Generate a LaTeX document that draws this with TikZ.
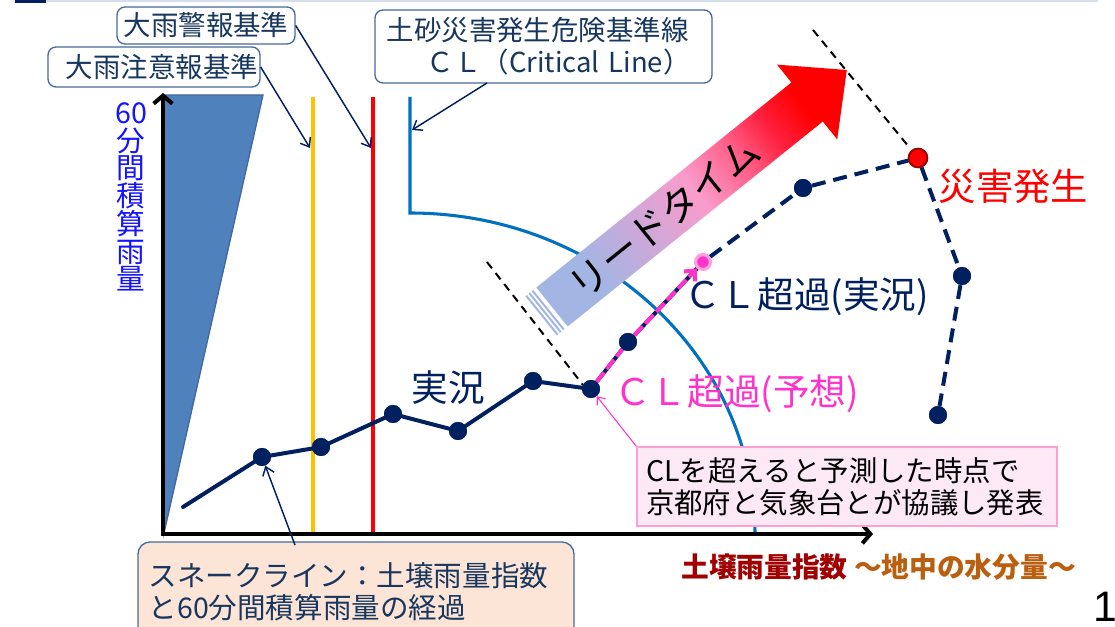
\documentclass[tikz,border=0pt]{standalone}
\usepackage{fontspec}
\setmainfont{Noto Sans CJK JP}
\newfontfamily\lsans{Liberation Sans}
\usetikzlibrary{arrows.meta}
\definecolor{navy}{RGB}{0,32,96}
\definecolor{calltext}{RGB}{23,55,94}
\definecolor{callborder}{RGB}{70,105,155}
\definecolor{axisblue}{RGB}{20,20,255}
\definecolor{wedge}{RGB}{79,129,189}
\definecolor{wedgeedge}{RGB}{65,105,160}
\definecolor{warnyellow}{RGB}{255,192,0}
\definecolor{clblue}{RGB}{0,112,192}
\definecolor{magentapink}{RGB}{255,51,204}
\definecolor{pinkring}{RGB}{255,160,220}
\definecolor{pinkfill}{RGB}{253,233,245}
\definecolor{pinkborder}{RGB}{255,160,210}
\definecolor{peach}{RGB}{252,229,214}
\definecolor{darkred}{RGB}{160,0,0}
\definecolor{brownish}{RGB}{185,95,15}
\definecolor{stripe}{RGB}{163,181,227}
\definecolor{topline}{RGB}{215,222,235}
\pgfdeclarehorizontalshading{leadtime}{100bp}{rgb(0bp)=(0.64,0.71,0.89); rgb(28bp)=(0.64,0.71,0.89); rgb(42bp)=(0.84,0.65,0.84); rgb(51bp)=(0.98,0.61,0.80); rgb(61bp)=(1,0.36,0.52); rgb(68bp)=(1,0.12,0.24); rgb(75bp)=(1,0,0); rgb(100bp)=(1,0,0)}
\begin{document}
\begin{tikzpicture}[x=0.75pt,y=-0.75pt,
  callout/.style={draw=callborder, line width=1pt, rounded corners=6pt, fill=white, text=calltext, inner sep=0pt, font=\fontsize{20.6}{24}\selectfont},
  navydot/.style={circle, fill=navy, inner sep=0pt, minimum size=13.5pt},
  ptr/.style={draw=navy, line width=1.1pt, -{Straight Barb[length=6pt,width=9pt]}},
  biglabel/.style={font=\fontsize{27.5}{27.5}\selectfont, inner sep=0pt},
  solidsnake/.style={navy, line width=3pt, line join=round, line cap=round},
  dashsnake/.style={navy, line width=3pt, dash pattern=on 10.5pt off 6pt},
  guide/.style={black, line width=1.5pt, dash pattern=on 6pt off 4.5pt}]
\useasboundingbox (0,0) rectangle (1115,627);
\clip (0,0) rectangle (1115,627);
\fill[white] (0,0) rectangle (1115,627);
% top decoration
\fill[navy] (15,0) rectangle (46,3);
\draw[topline, line width=1.5pt] (46,1.5) -- (1098,1.5);
% wedge
\filldraw[fill=wedge, draw=wedgeedge, line width=1pt] (164,533) -- (164,95) -- (263,95) -- cycle;
% threshold lines
\draw[warnyellow, line width=3pt] (313,97) -- (313,534);
\draw[red, line width=3pt] (373,97) -- (373,534);
\draw[clblue, line width=2.3pt] (410,97) -- (410,213) arc[start angle=90, end angle=0, x radius=258.75pt, y radius=240.75pt];
% axes
\draw[black, line width=3pt, {Straight Barb[length=6pt,width=14pt]}-{Straight Barb[length=6pt,width=14pt]}] (163,93) -- (163,534) -- (873,534);
% y axis label
\node[font=\fontsize{21.5}{20.8}\selectfont, text=axisblue, align=center, inner sep=0pt] (ylab) at (131,197) {60\\分\\間\\積\\算\\雨\\量};
% guide dashed lines
\coordinate (g1a) at (487,262);
\coordinate (g1b) at (583,385);
\coordinate (g2a) at (813,30);
\coordinate (g2b) at (909,147);
\draw[guide] (g1a) -- (g1b);
\draw[guide] (g2a) -- (g2b);
% lead time arrow
\coordinate (s1) at (536.3,287.5);
\coordinate (h1) at (791.4,82.5);
\coordinate (b1) at (777.0,64.6);
\coordinate (tip) at (846.8,70.0);
\coordinate (b2) at (837.2,139.4);
\coordinate (h2) at (822.8,121.5);
\coordinate (s2) at (567.7,326.5);
\shade[shading=leadtime, shading angle=38.8] (s1) -- (h1) -- (b1) -- (tip) -- (b2) -- (h2) -- (s2) -- cycle;
\draw[stripe, line width=1.5pt] (532.4,290.6) -- (563.8,329.6);
\draw[stripe, line width=1.5pt] (529.3,293.1) -- (560.7,332.1);
\draw[stripe, line width=1.5pt] (526.2,295.7) -- (557.6,334.7);
\node[font=\fontsize{29}{29}\selectfont, inner sep=0pt, rotate=38.8, text=black] (lead) at (664,217) {リードタイム};
% snake line
\coordinate (p0) at (183,507);
\node[navydot] (p1) at (262,457) {};
\node[navydot] (p2) at (321,447) {};
\node[navydot] (p3) at (393,414) {};
\node[navydot] (p4) at (458,431) {};
\node[navydot] (p5) at (533,381) {};
\node[navydot] (p6) at (591,389) {};
\node[navydot] (p7) at (628,342) {};
\node[navydot] (p9) at (803,188) {};
\node[navydot] (p11) at (962,276) {};
\node[navydot] (p12) at (938,415) {};
\node[circle, fill=magentapink, draw=pinkring, line width=2.3pt, minimum size=11pt, inner sep=0pt] (p8) at (703,262) {};
\node[circle, fill=red, draw=red!60!black, line width=1.3pt, minimum size=14pt, inner sep=0pt] (p10) at (918,158) {};
\draw[solidsnake] (p0) -- (p1.center) -- (p2.center) -- (p3.center) -- (p4.center) -- (p5.center) -- (p6.center);
\draw[navy, line width=3pt] (p6) -- (p7) -- (p8);
\draw[magentapink, line width=3pt, dash pattern=on 9pt off 3pt] (p6) -- (p7);
\draw[magentapink, line width=3pt, dash pattern=on 9pt off 3pt, -{Straight Barb[length=6pt,width=11pt]}] (p7) -- (p8);
\draw[dashsnake] (p8) -- (p9);
\draw[dashsnake] (p9) -- (p10);
\draw[dashsnake] (p10) -- (p11);
\draw[dashsnake] (p11) -- (p12);
% redraw dots on top
\foreach \d in {p1,p2,p3,p4,p5,p6,p7,p9,p11,p12} {\fill[navy] (\d.center) circle[radius=6.75pt];}
\node[circle, fill=magentapink, draw=pinkring, line width=2.3pt, minimum size=11pt, inner sep=0pt] at (p8.center) {};
\node[circle, fill=red, draw=red!60!black, line width=1.3pt, minimum size=14pt, inner sep=0pt] at (p10.center) {};
% labels
\node[biglabel, text=navy] (jikkyo) at (448,388) {実況};
\node[biglabel, text=navy, anchor=west] (clj) at (684,297) {ＣＬ超過(実況)};
\node[biglabel, text=magentapink, anchor=west] (clf) at (614,394) {ＣＬ超過(予想)};
\node[font=\fontsize{28}{28}\selectfont, text=red, inner sep=0pt] (saigai) at (1013.5,186) {災害発生};
% callouts
\node[callout, minimum width=133.5pt, minimum height=27.75pt] (keiho) at (206,25.5) {大雨警報基準};
\node[callout, minimum width=159pt, minimum height=30pt, text width=156pt, inner xsep=1.5pt, align=right] (chui) at (154,67) {大雨注意報基準};
\node[callout, minimum width=252.75pt, minimum height=54.75pt, text width=235.35pt, inner xsep=8.7pt, align=left] (clbox) at (543.5,46.5) {土砂災害発生危険基準線\\\hspace*{30pt}ＣＬ（Critical Line）};
\coordinate (yellowpt) at (310,148);
\coordinate (redpt) at (371,148);
\coordinate (clfrom) at (487,83);
\coordinate (clpt) at (412,130);
\draw[ptr] (chui.east) -- (yellowpt);
\draw[ptr] (keiho.east) -- (redpt);
\draw[ptr] (clfrom) -- (clpt);
% pink box
\node[draw=pinkborder, fill=pinkfill, line width=1pt, minimum width=315pt, minimum height=59.25pt, text width=301.4pt, inner xsep=6.8pt, align=left, text=black, font=\fontsize{21.3}{24}\selectfont] (pinkbox) at (847,486.5) {CLを超えると予測した時点で\\京都府と気象台とが協議し発表};
\draw[magentapink, line width=0.8pt, -{Straight Barb[length=5pt,width=8pt]}] (pinkbox.north west) -- (p6);
% snake box
\node[draw=callborder, fill=peach, line width=1pt, rounded corners=9pt, minimum width=327pt, minimum height=75pt, text width=311pt, inner xsep=8pt, align=left, text=calltext, font=\fontsize{21.4}{24}\selectfont] (snake) at (356,592) {スネークライン：土壌雨量指数\\と60分間積算雨量の経過};
\coordinate (snakefrom) at (295,545);
\draw[ptr] (snakefrom) -- (p1);
% x axis label
\node[font=\bfseries\fontsize{20.8}{20.8}\selectfont, anchor=west, inner sep=0pt] (xlab) at (681,567) {\textcolor{darkred}{土壌雨量指数} \textcolor{brownish}{～地中の水分量～}};
% page number
\node[font=\lsans\fontsize{32}{32}\selectfont, inner sep=0pt] (pnum) at (1105,607) {1};
\end{tikzpicture}
\end{document}
